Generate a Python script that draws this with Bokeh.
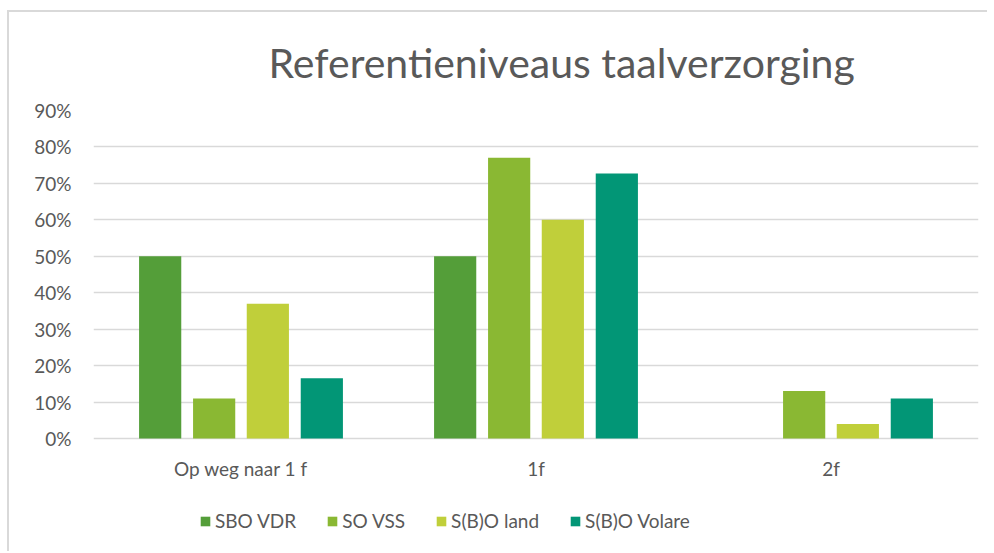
from bokeh.plotting import figure
from bokeh.models import FactorRange, ColumnDataSource, Legend, LegendItem, NumeralTickFormatter, FixedTicker
from bokeh.core.properties import value
from bokeh.transform import dodge
from bokeh.embed import file_html
from bokeh.resources import INLINE

categories = ["Op weg naar 1 f", "1f", "2f"]
series = ["SBO VDR", "SO VSS", "S(B)O land", "S(B)O Volare"]
sbo_vdr = [0.50, 0.50, 0.0]
so_vss = [0.11, 0.77, 0.13]
sbo_land = [0.37, 0.60, 0.04]
sbo_volare = [0.165, 0.727, 0.11]
y_ticks = [0.0, 0.1, 0.2, 0.3, 0.4, 0.5, 0.6, 0.7, 0.8, 0.9]
colors = ["#549E39", "#8AB833", "#C0CF3A", "#029676"]
title_text = "Referentieniveaus taalverzorging"

FONT = "Lato"
TXT = "#595959"

src = ColumnDataSource(dict(cat=categories, a=sbo_vdr, b=so_vss, c=sbo_land, d=sbo_volare,
                            ly=[-0.082] * len(categories)))

p = figure(x_range=FactorRange(*categories, range_padding=0), y_range=(-0.28, 0.9),
           width=980, height=541, output_backend="svg", toolbar_location=None,
           min_border_left=84, min_border_right=11, min_border_top=97, min_border_bottom=13,
           title=title_text)
p.styles = {"margin-left": "7px", "margin-top": "10px",
            "border-left": "2px solid #d9d9d9", "border-top": "2px solid #d9d9d9"}
p.outline_line_color = None
p.title.text_font = FONT
p.title.text_font_size = "41px"
p.title.text_font_style = "normal"
p.title.text_color = TXT
p.title.align = "left"
p.title.offset = 175
p.title.standoff = 47

offsets = [-0.274, -0.091, 0.091, 0.274]
items = []
for key, off, col, name in zip(["a", "b", "c", "d"], offsets, colors, series):
    r = p.vbar(x=dodge("cat", off, range=p.x_range), top=key, width=0.143, source=src,
               fill_color=col, line_color=None)
    items.append(LegendItem(label=name, renderers=[r]))

# category labels
p.text(x="cat", y="ly", text="cat", source=src, text_align="center", text_baseline="middle",
       text_font=value(FONT), text_font_size="19px", text_color=TXT)
p.xaxis.visible = False

p.yaxis.ticker = FixedTicker(ticks=y_ticks)
p.yaxis.formatter = NumeralTickFormatter(format="0%")
ax = p.yaxis[0]
ax.axis_line_color = None
ax.major_tick_line_color = None
ax.minor_tick_line_color = None
ax.major_label_text_font = FONT
ax.major_label_text_font_size = "19px"
ax.major_label_text_color = TXT
ax.major_label_standoff = 16
p.xgrid.grid_line_color = None
p.ygrid.grid_line_color = "#d9d9d9"
p.ygrid.grid_line_width = 1.5

legend = Legend(items=items, orientation="horizontal", location=(106, 8),
                label_text_font=FONT, label_text_font_size="19px", label_text_color=TXT,
                glyph_width=12, glyph_height=12, spacing=30, label_standoff=4,
                border_line_color=None, background_fill_alpha=0, margin=0, padding=4)
p.add_layout(legend)

open("out.html", "w").write(file_html(p, INLINE))
